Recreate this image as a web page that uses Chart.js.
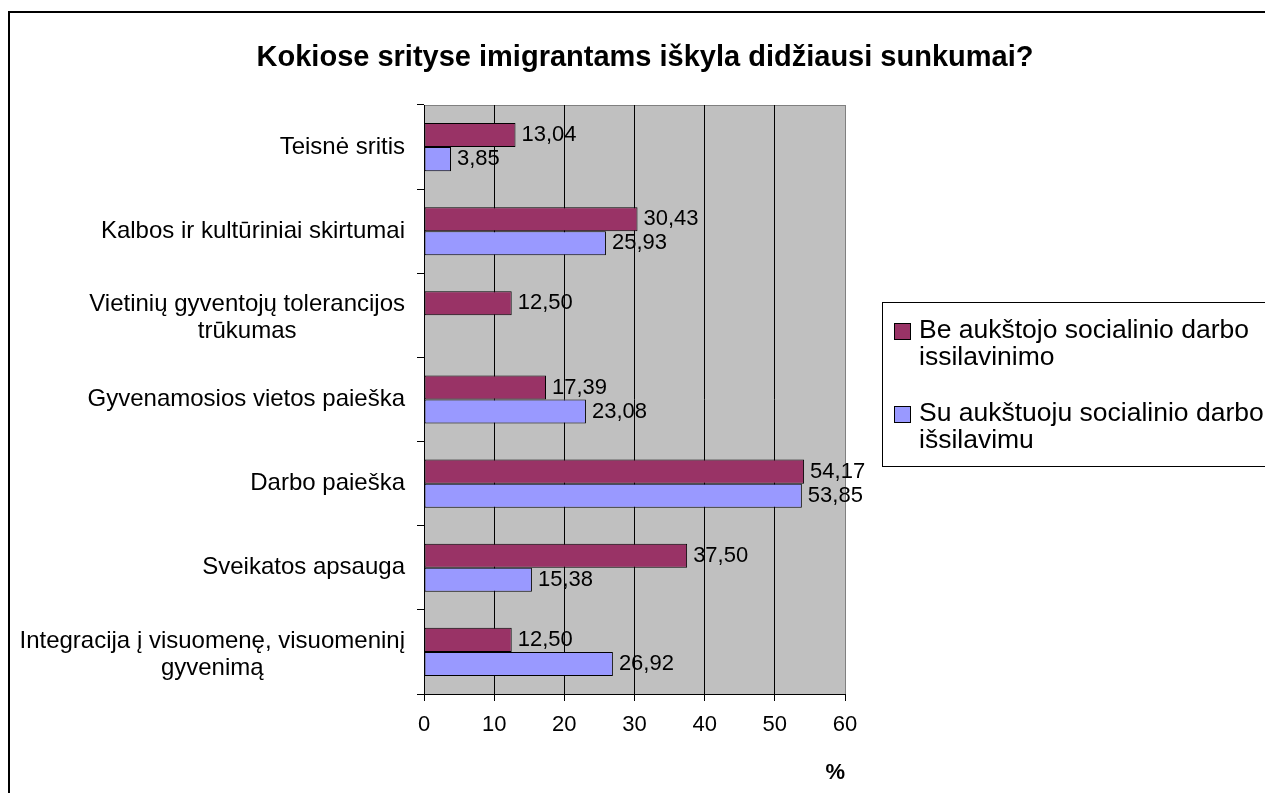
<!DOCTYPE html>
<html>
<head>
<meta charset="utf-8">
<script src="https://cdn.jsdelivr.net/npm/chart.js@4.4.1/dist/chart.umd.min.js"></script>
<style>
  html, body { margin: 0; padding: 0; background: #fff; }
  canvas { display: block; }
</style>
</head>
<body>
<canvas id="c" width="1265" height="793"></canvas>
<script>
// ---- data ----
const chartTitle = "Kokiose srityse imigrantams iškyla didžiausi sunkumai?";
const categories = [
  ["Teisnė sritis"],
  ["Kalbos ir kultūriniai skirtumai"],
  ["Vietinių gyventojų tolerancijos", "trūkumas"],
  ["Gyvenamosios vietos paieška"],
  ["Darbo paieška"],
  ["Sveikatos apsauga"],
  ["Integracija į visuomenę, visuomeninį", "gyvenimą"]
];
const seriesNames = [
  ["Be aukštojo socialinio darbo", "issilavinimo"],
  ["Su aukštuoju socialinio darbo", "išsilavimu"]
];
const beAukstojo = [13.04, 30.43, 12.50, 17.39, 54.17, 37.50, 12.50];
const suAukstuoju = [3.85, 25.93, null, 23.08, 53.85, 15.38, 26.92];
const xTicks = [0, 10, 20, 30, 40, 50, 60];
const xAxisTitle = "%";
const seriesColors = ["#993366", "#9999FF"];

const FONT = 'Arial, "Liberation Sans", sans-serif';
Chart.defaults.font.family = FONT;
Chart.defaults.color = '#000';

const decor = {
  id: 'decor',
  beforeDraw(chart) {
    const ctx = chart.ctx, a = chart.chartArea;
    ctx.save();
    ctx.fillStyle = '#fff';
    ctx.fillRect(0, 0, chart.width, chart.height);
    // outer border
    ctx.strokeStyle = '#000';
    ctx.lineWidth = 2;
    ctx.strokeRect(9, 12, 1400, 1000);
    // plot background
    ctx.fillStyle = '#C0C0C0';
    ctx.fillRect(a.left, a.top, a.right - a.left, a.bottom - a.top);
    ctx.strokeStyle = '#808080';
    ctx.lineWidth = 1;
    ctx.strokeRect(a.left + 0.5, a.top + 0.5, a.right - a.left, a.bottom - a.top);
    // title
    ctx.fillStyle = '#000';
    ctx.font = 'bold 29px ' + FONT;
    ctx.textAlign = 'center';
    ctx.textBaseline = 'middle';
    ctx.fillText(chartTitle, 645, 58);
    ctx.restore();
  },
  afterDraw(chart) {
    const ctx = chart.ctx;
    const yScale = chart.scales.y;
    ctx.save();
    // category labels (right-aligned block, lines centered)
    ctx.font = '24px ' + FONT;
    ctx.fillStyle = '#000';
    ctx.textBaseline = 'middle';
    ctx.textAlign = 'center';
    const rightEdge = 405, lh = 27;
    categories.forEach((lines, i) => {
      const yc = yScale.getPixelForValue(i);
      const w = Math.max(...lines.map(l => ctx.measureText(l).width));
      const cx = rightEdge - w / 2;
      const y0 = yc - (lines.length - 1) * lh / 2 + (lines.length > 1 ? 3 : 0);
      lines.forEach((l, k) => ctx.fillText(l, cx, y0 + k * lh));
    });
    // data labels
    ctx.font = '22px ' + FONT;
    ctx.textAlign = 'left';
    chart.data.datasets.forEach((ds, di) => {
      const meta = chart.getDatasetMeta(di);
      meta.data.forEach((el, i) => {
        const v = ds.data[i];
        if (v === null || v === undefined) return;
        ctx.fillText(v.toFixed(2).replace('.', ','), el.x + 6, el.y);
      });
    });
    // legend
    ctx.strokeStyle = '#000';
    ctx.lineWidth = 1;
    ctx.strokeRect(882.5, 302.5, 600, 164);
    ctx.font = '26.5px ' + FONT;
    const itemTops = [331, 414];
    seriesNames.forEach((lines, si) => {
      const y = itemTops[si];
      ctx.fillStyle = chart.data.datasets[si].backgroundColor;
      ctx.fillRect(894, y - 8, 16, 16);
      ctx.strokeRect(894.5, y - 7.5, 16, 16);
      ctx.fillStyle = '#000';
      lines.forEach((l, k) => ctx.fillText(l, 919, y + k * 27));
    });
    ctx.restore();
  }
};

new Chart(document.getElementById('c'), {
  type: 'bar',
  data: {
    labels: categories.map(c => c.join(' ')),
    datasets: [
      { label: seriesNames[0].join(' '), data: beAukstojo, backgroundColor: seriesColors[0],
        borderColor: '#000', borderWidth: 1, borderSkipped: false, categoryPercentage: 0.572, barPercentage: 1.0 },
      { label: seriesNames[1].join(' '), data: suAukstuoju, backgroundColor: seriesColors[1],
        borderColor: '#000', borderWidth: 1, borderSkipped: false, categoryPercentage: 0.572, barPercentage: 1.0 }
    ]
  },
  options: {
    indexAxis: 'y',
    responsive: false,
    animation: false,
    devicePixelRatio: 1,
    layout: { padding: { top: 105, right: 420, bottom: 0, left: 0 } },
    plugins: { legend: { display: false }, tooltip: { enabled: false }, title: { display: false } },
    scales: {
      x: {
        min: xTicks[0], max: xTicks[xTicks.length - 1],
        afterBuildTicks(s) { s.ticks = xTicks.map(v => ({ value: v })); },
        ticks: { font: { size: 22 }, color: '#000', padding: 11 },
        grid: {
          color: (c) => (c.tick && c.tick.value === 60) ? '#808080' : '#000',
          tickColor: '#000', lineWidth: 1, drawTicks: true, tickLength: 7
        },
        border: { display: true, color: '#000', width: 1 },
        title: { display: true, text: xAxisTitle, align: 'end', font: { size: 22, weight: 'bold' }, color: '#000', padding: { top: 0, bottom: 7 } },
        afterFit(s) { s.height = 99; }
      },
      y: {
        ticks: { display: false },
        grid: { drawOnChartArea: false, drawTicks: true, tickLength: 7, color: '#000', offset: true },
        border: { display: true, color: '#000', width: 1 },
        afterFit(s) { s.width = 424; }
      }
    }
  },
  plugins: [decor]
});
</script>
</body>
</html>
